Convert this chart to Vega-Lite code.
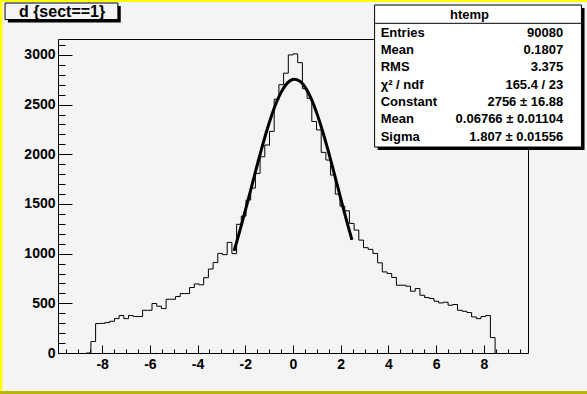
{
  "$schema": "https://vega.github.io/schema/vega-lite/v6.json",
  "width": 470,
  "height": 314,
  "autosize": {"type": "none"},
  "padding": {"left": 58, "top": 39, "right": 59, "bottom": 41},
  "background": "#f4f4f4",
  "config": {
    "view": {"stroke": "#000000", "strokeWidth": 1, "fill": "#f4f4f4"},
    "axis": {"labelFont": "Liberation Sans", "labelFontWeight": "bold", "labelFontSize": 14, "labelColor": "#000000", "tickColor": "#000000", "tickWidth": 1, "grid": false, "domain": false, "title": null},
    "text": {"font": "Liberation Sans", "fontWeight": "bold", "color": "#000000"}
  },
  "datasets": {
    "hist": [
      {"x": -8.668, "n": 0}, {"x": -8.471, "n": 115}, {"x": -8.274, "n": 296}, {"x": -8.077, "n": 298},
      {"x": -7.880, "n": 306}, {"x": -7.683, "n": 319}, {"x": -7.486, "n": 346}, {"x": -7.289, "n": 377},
      {"x": -7.092, "n": 346}, {"x": -6.895, "n": 377}, {"x": -6.698, "n": 367}, {"x": -6.501, "n": 367},
      {"x": -6.304, "n": 430}, {"x": -6.107, "n": 430}, {"x": -5.910, "n": 498}, {"x": -5.713, "n": 471},
      {"x": -5.516, "n": 447}, {"x": -5.319, "n": 541}, {"x": -5.122, "n": 541}, {"x": -4.925, "n": 568},
      {"x": -4.728, "n": 598}, {"x": -4.531, "n": 598}, {"x": -4.334, "n": 659}, {"x": -4.137, "n": 695},
      {"x": -3.940, "n": 686}, {"x": -3.743, "n": 758}, {"x": -3.546, "n": 845}, {"x": -3.349, "n": 911},
      {"x": -3.152, "n": 1002}, {"x": -2.955, "n": 990}, {"x": -2.758, "n": 1113}, {"x": -2.561, "n": 1000},
      {"x": -2.364, "n": 1295}, {"x": -2.167, "n": 1378}, {"x": -1.970, "n": 1539}, {"x": -1.773, "n": 1660},
      {"x": -1.576, "n": 1808}, {"x": -1.379, "n": 1975}, {"x": -1.182, "n": 2093}, {"x": -0.985, "n": 2230},
      {"x": -0.788, "n": 2553}, {"x": -0.591, "n": 2700}, {"x": -0.394, "n": 2816}, {"x": -0.197, "n": 3000},
      {"x": 0.000, "n": 3010}, {"x": 0.197, "n": 2922}, {"x": 0.394, "n": 2660}, {"x": 0.591, "n": 2564},
      {"x": 0.788, "n": 2330}, {"x": 0.985, "n": 2245}, {"x": 1.182, "n": 2019}, {"x": 1.379, "n": 1942},
      {"x": 1.576, "n": 1791}, {"x": 1.773, "n": 1599}, {"x": 1.970, "n": 1478}, {"x": 2.167, "n": 1431},
      {"x": 2.364, "n": 1304}, {"x": 2.561, "n": 1237}, {"x": 2.758, "n": 1136}, {"x": 2.955, "n": 1060},
      {"x": 3.152, "n": 1043}, {"x": 3.349, "n": 1002}, {"x": 3.546, "n": 907}, {"x": 3.743, "n": 816},
      {"x": 3.940, "n": 800}, {"x": 4.137, "n": 760}, {"x": 4.334, "n": 682}, {"x": 4.531, "n": 682},
      {"x": 4.728, "n": 672}, {"x": 4.925, "n": 622}, {"x": 5.122, "n": 649}, {"x": 5.319, "n": 581},
      {"x": 5.516, "n": 558}, {"x": 5.713, "n": 548}, {"x": 5.910, "n": 521}, {"x": 6.107, "n": 504},
      {"x": 6.304, "n": 511}, {"x": 6.501, "n": 481}, {"x": 6.698, "n": 488}, {"x": 6.895, "n": 430},
      {"x": 7.092, "n": 420}, {"x": 7.289, "n": 407}, {"x": 7.486, "n": 363}, {"x": 7.683, "n": 346},
      {"x": 7.880, "n": 367}, {"x": 8.077, "n": 377}, {"x": 8.274, "n": 155}, {"x": 8.471, "n": 0}
    ],
    "fit": [
      {"x": -2.47, "f": 1028}, {"x": -2.3, "f": 1168}, {"x": -2.1, "f": 1342}, {"x": -1.9, "f": 1523},
      {"x": -1.7, "f": 1708}, {"x": -1.5, "f": 1892}, {"x": -1.3, "f": 2070}, {"x": -1.1, "f": 2237},
      {"x": -0.9, "f": 2388}, {"x": -0.7, "f": 2518}, {"x": -0.5, "f": 2623}, {"x": -0.3, "f": 2700},
      {"x": -0.1, "f": 2744}, {"x": 0.0677, "f": 2756}, {"x": 0.3, "f": 2733}, {"x": 0.5, "f": 2678},
      {"x": 0.7, "f": 2592}, {"x": 0.9, "f": 2479}, {"x": 1.1, "f": 2341}, {"x": 1.3, "f": 2184},
      {"x": 1.5, "f": 2013}, {"x": 1.7, "f": 1833}, {"x": 1.9, "f": 1648}, {"x": 2.1, "f": 1464},
      {"x": 2.3, "f": 1285}, {"x": 2.47, "f": 1139}
    ],
    "stats": [
      {"name": "Entries", "value": "90080", "row": 0},
      {"name": "Mean", "value": "0.1807", "row": 1},
      {"name": "RMS", "value": "3.375", "row": 2},
      {"name": "χ² / ndf", "value": "165.4 / 23", "row": 3},
      {"name": "Constant", "value": "2756 ± 16.88", "row": 4},
      {"name": "Mean", "value": "0.06766 ± 0.01104", "row": 5},
      {"name": "Sigma", "value": "1.807 ± 0.01556", "row": 6}
    ],
    "one": [{"title": "d {sect==1}", "box": "htemp"}]
  },
  "layer": [
    {
      "layer": [
        {
          "data": {"name": "one"},
          "mark": {"type": "rect", "fill": "#ffff00"},
          "encoding": {
            "x": {"datum": -12.35, "axis": null}, "x2": {"datum": 12.45},
            "y": {"datum": 3560, "axis": null}, "y2": {"datum": 3533}
          }
        },
        {
          "data": {"name": "one"},
          "mark": {"type": "rect", "fill": "#ffff00"},
          "encoding": {
            "x": {"datum": -12.35, "axis": null}, "x2": {"datum": -12.18},
            "y": {"datum": 3560, "axis": null}, "y2": {"datum": -420}
          }
        },
        {
          "data": {"name": "one"},
          "mark": {"type": "rect", "fill": "#b8b800"},
          "encoding": {
            "x": {"datum": -12.35, "axis": null}, "x2": {"datum": 12.45},
            "y": {"datum": -383, "axis": null}, "y2": {"datum": -420}
          }
        },
        {
          "data": {"name": "one"},
          "mark": {"type": "rect", "fill": "#000000"},
          "encoding": {
            "x": {"datum": -11.95, "axis": null}, "x2": {"datum": -7.22},
            "y": {"datum": 3492, "axis": null}, "y2": {"datum": 3326}
          }
        },
        {
          "data": {"name": "one"},
          "mark": {"type": "rect", "fill": "#f4f4f4", "stroke": "#000000", "strokeWidth": 1},
          "encoding": {
            "x": {"datum": -12.07, "axis": null}, "x2": {"datum": -7.34},
            "y": {"datum": 3522, "axis": null}, "y2": {"datum": 3356}
          }
        },
        {
          "data": {"name": "one"},
          "mark": {"type": "text", "fontSize": 16, "align": "center", "baseline": "middle"},
          "encoding": {
            "x": {"datum": -9.68, "axis": null},
            "y": {"datum": 3436, "axis": null},
            "text": {"field": "title"}
          }
        },
        {
          "data": {"name": "one"},
          "mark": {"type": "rect", "fill": "#000000"},
          "encoding": {
            "x": {"datum": 3.55, "axis": null}, "x2": {"datum": 12.22},
            "y": {"datum": 3472, "axis": null}, "y2": {"datum": 2043}
          }
        },
        {
          "data": {"name": "one"},
          "mark": {"type": "rect", "fill": "#ffffff", "stroke": "#000000", "strokeWidth": 1},
          "encoding": {
            "x": {"datum": 3.42, "axis": null}, "x2": {"datum": 12.09},
            "y": {"datum": 3502, "axis": null}, "y2": {"datum": 2073}
          }
        },
        {
          "data": {"name": "one"},
          "mark": {"type": "rule", "color": "#000000", "strokeWidth": 1},
          "encoding": {
            "x": {"datum": 3.42, "axis": null}, "x2": {"datum": 12.09},
            "y": {"datum": 3318, "axis": null}
          }
        },
        {
          "data": {"name": "one"},
          "mark": {"type": "text", "fontSize": 13, "align": "center", "baseline": "middle"},
          "encoding": {
            "x": {"datum": 7.40, "axis": null},
            "y": {"datum": 3401, "axis": null},
            "text": {"field": "box"}
          }
        },
        {
          "data": {"name": "hist"},
          "mark": {"type": "line", "interpolate": "step-after", "color": "#000000", "strokeWidth": 1},
          "encoding": {
            "x": {"field": "x", "type": "quantitative",
                  "scale": {"domain": [-9.85, 9.85], "nice": false, "zero": false},
                  "axis": {"orient": "bottom", "values": [-8, -6, -4, -2, 0, 2, 4, 6, 8], "tickSize": -8, "labelPadding": 12, "labelExpr": "'' + datum.value"}},
            "y": {"field": "n", "type": "quantitative",
                  "scale": {"domain": [0, 3160], "nice": false, "zero": false},
                  "axis": {"orient": "left", "values": [0, 500, 1000, 1500, 2000, 2500, 3000], "tickSize": -14, "labelPadding": 17, "labelExpr": "'' + datum.value"}}
          }
        },
        {
          "data": {"name": "fit"},
          "mark": {"type": "line", "interpolate": "monotone", "color": "#000000", "strokeWidth": 3},
          "encoding": {
            "x": {"field": "x", "type": "quantitative",
                  "scale": {"domain": [-9.85, 9.85], "nice": false, "zero": false},
                  "axis": {"orient": "bottom", "values": [-9.5, -9, -8.5, -7.5, -7, -6.5, -5.5, -5, -4.5, -3.5, -3, -2.5, -1.5, -1, -0.5, 0.5, 1, 1.5, 2.5, 3, 3.5, 4.5, 5, 5.5, 6.5, 7, 7.5, 8.5, 9, 9.5], "tickSize": -4, "labels": false}},
            "y": {"field": "f", "type": "quantitative",
                  "scale": {"domain": [0, 3160], "nice": false, "zero": false},
                  "axis": {"orient": "left", "values": [100, 200, 300, 400, 600, 700, 800, 900, 1100, 1200, 1300, 1400, 1600, 1700, 1800, 1900, 2100, 2200, 2300, 2400, 2600, 2700, 2800, 2900, 3100], "tickSize": -7, "labels": false}}
          }
        }
      ],
      "resolve": {"axis": {"x": "independent", "y": "independent"}}
    },
    {
      "data": {"name": "stats"},
      "layer": [
        {
          "mark": {"type": "text", "fontSize": 13, "align": "left", "baseline": "middle"},
          "encoding": {
            "x": {"datum": 3.675, "axis": null},
            "y": {"field": "row", "type": "quantitative", "axis": null,
                  "scale": {"domain": [0.3635, 18.48], "reverse": true, "nice": false, "zero": false}},
            "text": {"field": "name"}
          }
        },
        {
          "mark": {"type": "text", "fontSize": 13, "align": "right", "baseline": "middle"},
          "encoding": {
            "x": {"datum": 11.327, "axis": null},
            "y": {"field": "row", "type": "quantitative", "axis": null,
                  "scale": {"domain": [0.3635, 18.48], "reverse": true, "nice": false, "zero": false}},
            "text": {"field": "value"}
          }
        }
      ]
    }
  ],
  "resolve": {"scale": {"y": "independent"}, "axis": {"x": "independent", "y": "independent"}}
}
